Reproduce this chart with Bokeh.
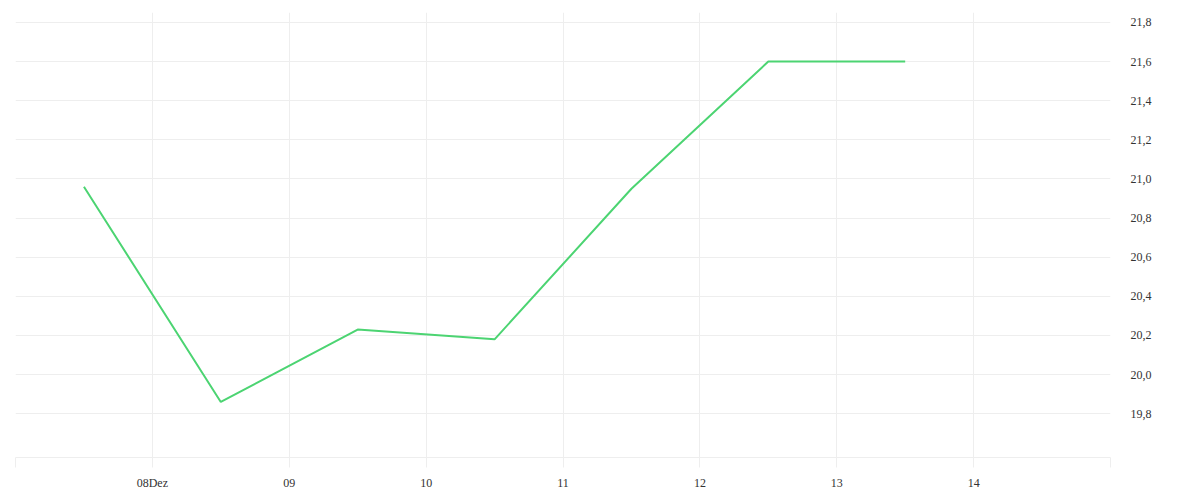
import pandas as pd
from bokeh.plotting import figure
from bokeh.models import FixedTicker, Range1d, LinearAxis, Grid
from bokeh.embed import file_html
from bokeh.resources import INLINE

# data
dates = ["2023-12-07 12:00", "2023-12-08 12:00", "2023-12-09 12:00", "2023-12-10 12:00",
         "2023-12-11 12:00", "2023-12-12 12:00", "2023-12-13 12:00"]
values = [20.96, 19.86, 20.23, 20.18, 20.95, 21.60, 21.60]
tick_days = ["2023-12-07", "2023-12-08", "2023-12-09", "2023-12-10", "2023-12-11",
             "2023-12-12", "2023-12-13", "2023-12-14", "2023-12-15"]
tick_day_labels = ["", "08Dez", "09", "10", "11", "12", "13", "14", ""]
y_ticks = [19.8, 20.0, 20.2, 20.4, 20.6, 20.8, 21.0, 21.2, 21.4, 21.6, 21.8]
y_tick_labels = ["19,8", "20,0", "20,2", "20,4", "20,6", "20,8", "21,0", "21,2", "21,4", "21,6", "21,8"]

x = pd.to_datetime(dates)
xt = [pd.Timestamp(d).value / 1e6 for d in tick_days]

p = figure(width=1184, height=492, x_axis_type="datetime", output_backend="svg",
           toolbar_location=None, y_axis_location=None,
           x_range=Range1d(xt[0], xt[-1]), y_range=Range1d(19.576, 21.851),
           min_border_left=15, min_border_right=74, min_border_top=12, min_border_bottom=34)
p.outline_line_color = None

p.line(x, values, line_color="#4CD472", line_width=2)

FONT = "Liberation Serif"
LABEL_COLOR = "#333333"

xa = p.xaxis[0]
xa.ticker = FixedTicker(ticks=xt)
xa.major_label_overrides = {t: l for t, l in zip(xt, tick_day_labels)}
xa.axis_line_color = "#eeeeee"
xa.major_tick_line_color = "#eeeeee"
xa.major_tick_in = 0
xa.major_tick_out = 10
xa.minor_tick_line_color = None
xa.major_label_standoff = 8
xa.major_label_text_font = FONT
xa.major_label_text_font_size = "12px"
xa.major_label_text_color = LABEL_COLOR

ya = LinearAxis(ticker=FixedTicker(ticks=y_ticks))
ya.major_label_overrides = {t: l for t, l in zip(y_ticks, y_tick_labels)}
ya.axis_line_color = None
ya.major_tick_line_color = None
ya.minor_tick_line_color = None
ya.major_label_standoff = 14
ya.major_label_text_font = FONT
ya.major_label_text_font_size = "12px"
ya.major_label_text_color = LABEL_COLOR
p.add_layout(ya, "right")

p.xgrid.ticker = FixedTicker(ticks=xt)
p.xgrid.grid_line_color = "#eeeeee"
p.ygrid.grid_line_color = None
yg = Grid(dimension=1, ticker=FixedTicker(ticks=y_ticks), grid_line_color="#eeeeee")
p.add_layout(yg)

open("out.html", "w").write(file_html(p, INLINE))
